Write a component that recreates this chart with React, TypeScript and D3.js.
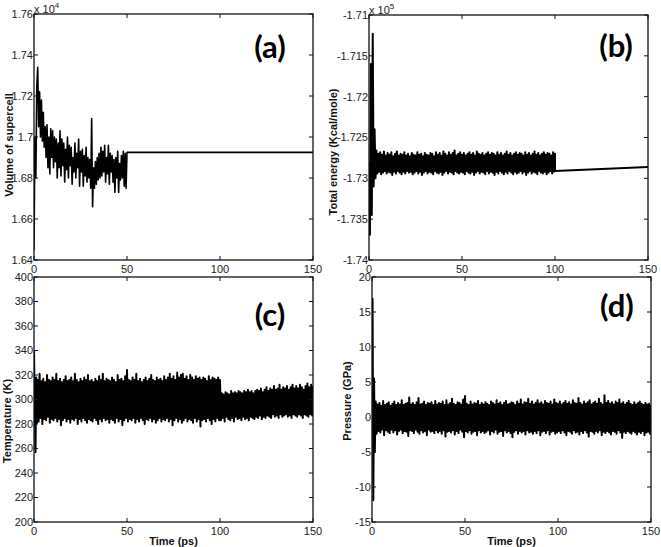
import React from "react";
import * as d3 from "d3";

// ---------- DATA ----------
const timeTicks = [0, 50, 100, 150];

// (a) Volume of supercell (x10^4), sampled every 0.5 ps from 0 to 50 ps, then constant
const volumeStep = 0.5;
const volumeValues = [
  1.645, 1.700, 1.680, 1.725, 1.734, 1.705, 1.722, 1.700, 1.718, 1.698,
  1.712, 1.695, 1.705, 1.690, 1.706, 1.685, 1.700, 1.682, 1.704, 1.690,
  1.703, 1.685, 1.700, 1.688, 1.699, 1.680, 1.697, 1.685, 1.703, 1.681,
  1.699, 1.686, 1.697, 1.678, 1.694, 1.684, 1.700, 1.680, 1.696, 1.686,
  1.695, 1.677, 1.690, 1.683, 1.697, 1.680, 1.692, 1.685, 1.699, 1.676,
  1.693, 1.683, 1.694, 1.676, 1.691, 1.681, 1.695, 1.678, 1.690, 1.680,
  1.689, 1.675, 1.709, 1.666, 1.685, 1.675, 1.688, 1.677, 1.690, 1.679,
  1.692, 1.680, 1.695, 1.681, 1.693, 1.683, 1.696, 1.678, 1.690, 1.682,
  1.696, 1.677, 1.692, 1.683, 1.691, 1.678, 1.689, 1.673, 1.690, 1.680,
  1.693, 1.673, 1.687, 1.679, 1.691, 1.680, 1.693, 1.676, 1.692, 1.675,
  1.6925,
];
const volumeTailTime = [50, 150];
const volumeTailValue = [1.6925, 1.6925];
const volumeTicks = [1.64, 1.66, 1.68, 1.7, 1.72, 1.74, 1.76];

// (b) Total energy (x10^5): initial transient, then highs at t = 4..100, lows at t = 4.5..99.5
const energyStartTime = [0, 0.5, 1.0, 1.5, 2.0, 2.5, 3.0, 3.5];
const energyStartValue = [-1.7280, -1.7369, -1.7160, -1.7345, -1.7123, -1.7310, -1.7240, -1.7300];
const energyBandStart = 4;
const energyHigh = [
  -1.7266, -1.7270, -1.7268, -1.7271, -1.7267, -1.7272, -1.7269,
  -1.7271, -1.7268, -1.7273, -1.7270, -1.7267, -1.7272, -1.7270, -1.7271, -1.7268, -1.7272,
  -1.7270, -1.7273, -1.7269, -1.7271, -1.7272, -1.7268, -1.7271, -1.7270, -1.7273, -1.7269,
  -1.7271, -1.7272, -1.7269, -1.7270, -1.7273, -1.7268, -1.7271, -1.7269, -1.7272, -1.7267,
  -1.7270, -1.7272, -1.7268, -1.7271, -1.7269, -1.7266, -1.7272, -1.7270, -1.7268, -1.7271,
  -1.7269, -1.7272, -1.7270, -1.7268, -1.7271, -1.7269, -1.7272, -1.7267, -1.7270, -1.7271,
  -1.7269, -1.7272, -1.7270, -1.7268, -1.7271, -1.7269, -1.7270, -1.7272, -1.7268, -1.7271,
  -1.7269, -1.7272, -1.7270, -1.7267, -1.7271, -1.7269, -1.7272, -1.7270, -1.7268, -1.7271,
  -1.7269, -1.7270, -1.7272, -1.7268, -1.7271, -1.7269, -1.7272, -1.7270, -1.7267, -1.7271,
  -1.7269, -1.7272, -1.7270, -1.7268, -1.7271, -1.7269, -1.7270, -1.7272, -1.7268, -1.7270,
];
const energyLow = [
  -1.7294, -1.7292, -1.7295, -1.7293, -1.7291, -1.7294, -1.7292,
  -1.7293, -1.7296, -1.7292, -1.7294, -1.7291, -1.7293, -1.7295, -1.7292, -1.7294, -1.7291,
  -1.7293, -1.7292, -1.7295, -1.7293, -1.7291, -1.7294, -1.7292, -1.7296, -1.7293, -1.7291,
  -1.7294, -1.7292, -1.7293, -1.7295, -1.7291, -1.7293, -1.7294, -1.7292, -1.7296, -1.7293,
  -1.7291, -1.7294, -1.7292, -1.7293, -1.7295, -1.7291, -1.7293, -1.7294, -1.7292, -1.7293,
  -1.7295, -1.7291, -1.7293, -1.7294, -1.7292, -1.7296, -1.7293, -1.7291, -1.7294, -1.7292,
  -1.7293, -1.7295, -1.7291, -1.7294, -1.7292, -1.7293, -1.7296, -1.7292, -1.7294, -1.7291,
  -1.7293, -1.7295, -1.7292, -1.7294, -1.7291, -1.7293, -1.7295, -1.7292, -1.7294, -1.7293,
  -1.7291, -1.7294, -1.7292, -1.7296, -1.7293, -1.7291, -1.7294, -1.7292, -1.7293, -1.7295,
  -1.7291, -1.7293, -1.7294, -1.7292, -1.7295, -1.7293, -1.7291, -1.7294, -1.7292,
];
const energyTailTime = [100, 150];
const energyTailValue = [-1.7291, -1.7286];
const energyTicks = [-1.74, -1.735, -1.73, -1.725, -1.72, -1.715, -1.71];

// (c) Temperature (K): initial transient, then highs at t = 2..150, lows at t = 2.5..149.5
const tempStartTime = [0, 0.4, 0.8, 1.2, 1.6];
const tempStartValue = [340, 296, 257, 318, 281];
const tempBandStart = 2;
const tempHigh = [
  316, 321, 315, 317, 314, 320, 316, 315, 318,
  316, 321, 315, 317, 314, 316, 319, 315, 316, 318,
  315, 321, 316, 314, 317, 315, 318, 316, 320, 315,
  316, 314, 317, 315, 319, 316, 321, 315, 317, 316,
  315, 318, 316, 314, 320, 316, 317, 315, 319, 324,
  316, 315, 318, 316, 321, 315, 317, 314, 316, 318,
  315, 317, 320, 316, 315, 318, 316, 317, 315, 319,
  316, 318, 321, 317, 319, 316, 322, 318, 320, 321,
  317, 319, 316, 320, 318, 316, 319, 317, 318, 316,
  318, 317, 315, 319, 316, 318, 317, 316, 318, 316,
  305, 304, 306, 305, 304, 307, 305, 306, 305, 307,
  306, 305, 307, 306, 308, 306, 307, 305, 307, 308,
  307, 309, 306, 308, 310, 307, 309, 308, 311, 308,
  309, 312, 308, 310, 309, 311, 308, 310, 312, 309,
  311, 309, 312, 310, 308, 311, 313, 310, 312, 311,
];
const tempLow = [
  282, 285, 280, 284, 283, 286, 281, 284, 283,
  285, 282, 284, 279, 283, 285, 282, 284, 281, 284,
  283, 285, 280, 284, 282, 285, 283, 281, 284, 283,
  282, 285, 283, 280, 284, 282, 285, 283, 284, 281,
  284, 283, 281, 285, 282, 284, 279, 283, 285, 282,
  284, 283, 285, 281, 284, 282, 285, 283, 280, 284,
  283, 285, 282, 284, 281, 283, 285, 282, 284, 283,
  285, 282, 284, 279, 283, 285, 282, 284, 281, 283,
  285, 282, 284, 283, 281, 285, 282, 284, 278, 283,
  284, 282, 285, 283, 280, 284, 282, 285, 283,
  283, 285, 282, 286, 284, 283, 285, 282, 286, 284,
  285, 283, 286, 284, 285, 283, 286, 285, 284, 286,
  285, 287, 284, 286, 285, 287, 286, 285, 288, 286,
  287, 285, 288, 286, 287, 288, 286, 287, 285, 288,
  287, 286, 288, 287, 285, 288, 287, 286, 288, 287,
];
const tempTicks = [200, 220, 240, 260, 280, 300, 320, 340, 360, 380, 400];

// (d) Pressure (GPa): initial transient, then highs at t = 2..150, lows at t = 2.5..149.5
const pressureStartTime = [0, 0.3, 0.7, 1.1, 1.5];
const pressureStartValue = [0, 16.9, -11.9, 5.5, -5];
const pressureBandStart = 2;
const pressureHigh = [
  2.2, 1.8, 2.0, 1.6, 2.3, 1.7, 1.9, 2.1, 1.6,
  1.9, 2.2, 1.7, 2.0, 1.8, 2.4, 1.7, 1.9, 2.0, 2.8,
  1.8, 2.0, 1.7, 2.1, 2.7, 1.8, 1.9, 2.2, 1.7, 2.0,
  1.9, 2.1, 1.7, 2.3, 1.8, 2.0, 1.9, 2.2, 1.7, 2.4,
  1.8, 2.0, 2.6, 1.9, 1.7, 2.1, 2.0, 1.8, 2.5, 3.0,
  1.9, 1.7, 2.2, 1.8, 2.0, 1.9, 2.3, 1.7, 2.0, 1.8,
  2.1, 1.9, 1.7, 2.2, 2.0, 1.8, 2.4, 1.9, 2.1, 1.7,
  2.0, 2.3, 1.8, 1.9, 2.1, 2.0, 1.7, 2.2, 1.9, 2.5,
  1.8, 2.1, 2.0, 2.6, 1.9, 2.2, 1.8, 2.0, 2.4, 1.9,
  2.1, 1.8, 2.3, 2.0, 1.9, 2.2, 1.8, 2.5, 2.0, 1.9,
  2.2, 1.8, 2.0, 2.3, 1.9, 2.1, 1.8, 2.4, 2.0, 1.9,
  2.7, 2.0, 1.8, 2.2, 1.9, 2.1, 2.4, 1.8, 2.0, 2.2,
  1.9, 2.6, 2.0, 1.8, 3.1, 2.0, 2.3, 1.9, 2.1, 1.8,
  2.2, 2.0, 2.5, 1.9, 2.1, 1.8, 2.0, 2.3, 1.9, 1.7,
  2.1, 1.8, 2.0, 2.2, 1.9, 1.7, 2.0, 1.8, 1.9, 1.7,
];
const pressureLow = [
  -2.4, -2.0, -2.2, -1.8, -2.6, -1.9, -2.1, -2.3, -1.8,
  -2.2, -1.9, -2.5, -2.0, -1.8, -2.3, -2.0, -2.1, -2.7, -1.9,
  -2.0, -2.3, -1.8, -2.1, -2.4, -1.9, -2.2, -2.0, -2.6, -1.8,
  -2.1, -2.0, -2.3, -1.9, -2.2, -2.0, -2.4, -1.9, -2.8, -2.1,
  -2.0, -2.2, -1.9, -2.5, -2.0, -2.3, -1.8, -2.1, -2.9, -2.0,
  -2.2, -1.9, -2.4, -2.1, -2.0, -2.6, -1.9, -2.2, -2.0, -2.3,
  -2.1, -1.9, -2.5, -2.0, -2.2, -1.8, -2.4, -2.1, -2.0, -2.7,
  -1.9, -2.2, -2.0, -2.3, -2.9, -2.1, -1.9, -2.4, -2.0, -2.2,
  -2.0, -2.5, -1.9, -2.2, -2.1, -2.4, -2.0, -2.3, -1.9, -2.6,
  -2.1, -2.0, -2.3, -1.9, -2.5, -2.1, -2.0, -2.4, -2.2,
  -2.0, -2.3, -1.9, -2.2, -2.6, -2.0, -2.1, -2.4, -1.9, -2.2,
  -2.1, -2.5, -2.0, -2.3, -1.9, -2.2, -2.8, -2.0, -2.1, -2.4,
  -2.0, -2.2, -1.9, -2.6, -2.1, -2.3, -2.0, -2.2, -2.5, -2.0,
  -2.1, -2.4, -1.9, -2.2, -3.0, -2.1, -2.3, -2.0, -2.2, -2.4,
  -2.0, -2.2, -2.5, -2.1, -2.3, -2.0, -2.6, -2.2, -2.1, -2.4,
];
const pressureTicks = [-15, -10, -5, 0, 5, 10, 15, 20];

const bandStep = 1; // ps between successive highs

// ---------- helpers ----------
type Pt = [number, number];
function pairs(times: number[], values: number[]): Pt[] {
  return times.map((t, i) => [t, values[i]] as Pt);
}
function interleave(high: number[], low: number[], start: number, step: number): Pt[] {
  const out: Pt[] = [];
  high.forEach((h, i) => {
    out.push([start + i * step, h]);
    if (i < low.length) out.push([start + i * step + step / 2, low[i]]);
  });
  return out;
}

const volumePoints: Pt[] = [
  ...volumeValues.map((v, i) => [i * volumeStep, v] as Pt),
  ...pairs(volumeTailTime, volumeTailValue),
];
const energyPoints: Pt[] = [
  ...pairs(energyStartTime, energyStartValue),
  ...interleave(energyHigh, energyLow, energyBandStart, bandStep),
  ...pairs(energyTailTime, energyTailValue),
];
const tempPoints: Pt[] = [
  ...pairs(tempStartTime, tempStartValue),
  ...interleave(tempHigh, tempLow, tempBandStart, bandStep),
];
const pressurePoints: Pt[] = [
  ...pairs(pressureStartTime, pressureStartValue),
  ...interleave(pressureHigh, pressureLow, pressureBandStart, bandStep),
];

const FONT = "'Liberation Sans', Arial, sans-serif";

interface PanelCfg {
  id: string;
  x0: number; x1: number; y0: number; y1: number;
  yTicks: number[];
  fmt: (v: number) => string;
  points: Pt[];
  lineWidth: number;
  tag: string;
  tagX: number; tagY: number;
  ylabel: string;
  ylabelX: number; ylabelY: number;
  exponent?: string;
  xlabel?: boolean;
}

const panels: PanelCfg[] = [
  {
    id: "a", x0: 34, x1: 313, y0: 14, y1: 260,
    yTicks: volumeTicks, fmt: (v) => String(+v.toFixed(2)),
    points: volumePoints, lineWidth: 1.6, tag: "(a)", tagX: 270, tagY: 58,
    ylabel: "Volume of supercell", ylabelX: 13, ylabelY: 145, exponent: "4",
  },
  {
    id: "b", x0: 369, x1: 648, y0: 15, y1: 260,
    yTicks: energyTicks, fmt: (v) => String(+v.toFixed(3)),
    points: energyPoints, lineWidth: 2, tag: "(b)", tagX: 616, tagY: 57,
    ylabel: "Total energy (Kcal/mole)", ylabelX: 337, ylabelY: 152, exponent: "5",
  },
  {
    id: "c", x0: 34, x1: 313, y0: 277, y1: 522,
    yTicks: tempTicks, fmt: (v) => String(v),
    points: tempPoints, lineWidth: 2, tag: "(c)", tagX: 270, tagY: 326,
    ylabel: "Temperature (K)", ylabelX: 11, ylabelY: 421, xlabel: true,
  },
  {
    id: "d", x0: 372, x1: 651, y0: 277, y1: 522,
    yTicks: pressureTicks, fmt: (v) => String(v),
    points: pressurePoints, lineWidth: 2, tag: "(d)", tagX: 617, tagY: 317,
    ylabel: "Pressure (GPa)", ylabelX: 351, ylabelY: 401, xlabel: true,
  },
];

function Panel({ p }: { p: PanelCfg }) {
  const x = d3.scaleLinear().domain([0, 150]).range([p.x0, p.x1]);
  const yExt = d3.extent(p.yTicks) as [number, number];
  const y = d3.scaleLinear().domain(yExt).range([p.y1, p.y0]);
  const line = d3.line<Pt>().x((d) => x(d[0])).y((d) => y(d[1]));
  const tl = 4;
  return (
    <g>
      <defs>
        <clipPath id={`clip-${p.id}`}>
          <rect x={p.x0} y={p.y0} width={p.x1 - p.x0} height={p.y1 - p.y0} />
        </clipPath>
      </defs>
      <path
        d={line(p.points) || ""}
        fill="none"
        stroke="#000"
        strokeWidth={p.lineWidth}
        strokeLinejoin="round"
        clipPath={`url(#clip-${p.id})`}
      />
      <rect x={p.x0} y={p.y0} width={p.x1 - p.x0} height={p.y1 - p.y0} fill="none" stroke="#111" strokeWidth={1.3} />
      {p.yTicks.map((t) => (
        <g key={"y" + t}>
          <line x1={p.x0} x2={p.x0 + tl} y1={y(t)} y2={y(t)} stroke="#111" />
          <line x1={p.x1} x2={p.x1 - tl} y1={y(t)} y2={y(t)} stroke="#111" />
          <text x={p.x0 - 1} y={y(t)} dy="0.35em" textAnchor="end" fontFamily={FONT} fontSize={11} fill="#222">
            {p.fmt(t)}
          </text>
        </g>
      ))}
      {timeTicks.map((t) => (
        <g key={"x" + t}>
          <line x1={x(t)} x2={x(t)} y1={p.y1} y2={p.y1 - tl} stroke="#111" />
          <line x1={x(t)} x2={x(t)} y1={p.y0} y2={p.y0 + tl} stroke="#111" />
          <text x={x(t)} y={p.y1 + 12.5} textAnchor="middle" fontFamily={FONT} fontSize={11} fill="#222">
            {t}
          </text>
        </g>
      ))}
      {p.exponent && (
        <text x={p.x0} y={p.y0 - 1} fontFamily={FONT} fontSize={11} fill="#222">
          x 10
          <tspan dy={-5} fontSize={8}>{p.exponent}</tspan>
        </text>
      )}
      <text
        transform={`translate(${p.ylabelX},${p.ylabelY}) rotate(-90)`}
        textAnchor="middle"
        fontFamily={FONT}
        fontWeight="bold"
        fontSize={11}
        fill="#111"
      >
        {p.ylabel}
      </text>
      {p.xlabel && (
        <text x={(p.x0 + p.x1) / 2} y={p.y1 + 23} textAnchor="middle" fontFamily={FONT} fontWeight="bold" fontSize={11} fill="#111">
          Time (ps)
        </text>
      )}
      <text x={p.tagX} y={p.tagY} textAnchor="middle" fontFamily="Lato, 'Open Sans', sans-serif" fontWeight="bold" fontSize={31} fill="#000">
        {p.tag}
      </text>
    </g>
  );
}

export default function App() {
  return (
    <svg width={661} height={547} style={{ position: "absolute", left: 0, top: 0, background: "#fff" }}>
      <rect width={661} height={547} fill="#fff" />
      {panels.map((p) => (
        <Panel key={p.id} p={p} />
      ))}
    </svg>
  );
}
